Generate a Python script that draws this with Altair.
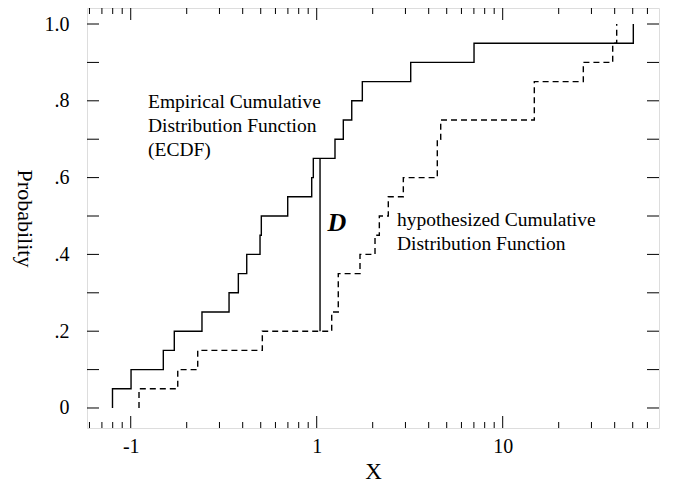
import altair as alt
import pandas as pd

# ECDF: x where each jump happens and the level reached after it
ecdf_x = [0.0798, 0.1004, 0.1497, 0.1715, 0.2416, 0.3378, 0.3790, 0.4205, 0.4957, 0.5037,
          0.6984, 0.9400, 0.9588, 1.254, 1.390, 1.543, 1.759, 3.202, 7.012, 50.38]
ecdf_p = [0.05, 0.10, 0.15, 0.20, 0.25, 0.30, 0.35, 0.40, 0.45, 0.50,
          0.55, 0.60, 0.65, 0.70, 0.75, 0.80, 0.85, 0.90, 0.95, 1.00]

# hypothesized CDF (dashed)
hyp_x = [0.1108, 0.1790, 0.2292, 0.5100, 1.204, 1.306, 1.709, 2.058, 2.171, 2.426,
         2.922, 4.450, 4.642, 14.79, 27.13, 39.03, 41.01]
hyp_p = [0.05, 0.10, 0.15, 0.20, 0.25, 0.35, 0.40, 0.45, 0.50, 0.55,
         0.60, 0.70, 0.75, 0.85, 0.90, 0.95, 1.00]

# the D statistic
d_x = [1.042]
d_lo = [0.20]
d_hi = [0.65]

# axis ticks
x_major = [0.1, 1, 10]
x_minor = [0.06, 0.07, 0.08, 0.09,
           0.2, 0.3, 0.4, 0.5, 0.6, 0.7, 0.8, 0.9,
           2, 3, 4, 5, 6, 7, 8, 9,
           20, 30, 40, 50, 60]
y_ticks = [0, 0.1, 0.2, 0.3, 0.4, 0.5, 0.6, 0.7, 0.8, 0.9, 1.0]
y_labels = [0, 0.2, 0.4, 0.6, 0.8, 1.0]

FONT = "Liberation Serif"
W, H = 572, 420


def steps(xv, pv):
    # start the step at zero below the first jump
    xs_ = [xv[0]] + list(xv)
    ps_ = [0.0] + list(pv)
    return pd.DataFrame({"i": range(len(xs_)), "x": xs_, "p": ps_})


xs = alt.Scale(type="log", domain=[0.0582, 69.24], nice=False)
ys = alt.Scale(domain=[-0.0521, 1.0417], nice=False, zero=False)

xa = alt.Axis(values=x_major, grid=False, domain=False, ticks=False, tickSize=0, title="X",
              labelExpr="datum.value < 0.5 ? '-1' : (datum.value < 5 ? '1' : '10')",
              labelFont=FONT, labelFontSize=20, labelColor="black", labelPadding=8,
              titleFont=FONT, titleFontSize=23, titleFontWeight="normal",
              titleColor="black", titlePadding=4)
ya = alt.Axis(values=y_labels, grid=False, domain=False, ticks=False, tickSize=0, title="Probability",
              labelExpr="datum.value == 0 ? '0' : (datum.value == 1 ? '1.0' : replace(format(datum.value, '.1f'), '0.', '.'))",
              labelFont=FONT, labelFontSize=20, labelColor="black", labelPadding=18,
              titleFont=FONT, titleFontSize=22, titleFontWeight="normal",
              titleColor="black", titleAngle=90, titlePadding=32)

ecdf = alt.Chart(steps(ecdf_x, ecdf_p)).mark_line(
    interpolate="step-after", color="black", strokeWidth=1.4
).encode(
    x=alt.X("x:Q", scale=xs, axis=xa),
    y=alt.Y("p:Q", scale=ys, axis=ya),
    order="i:Q",
)

hyp = alt.Chart(steps(hyp_x, hyp_p)).mark_line(
    interpolate="step-after", color="black", strokeWidth=1.4, strokeDash=[6, 4]
).encode(
    x=alt.X("x:Q", scale=xs, axis=xa),
    y=alt.Y("p:Q", scale=ys, axis=ya),
    order="i:Q",
)

dline = alt.Chart(pd.DataFrame({"x": d_x, "lo": d_lo, "hi": d_hi})).mark_rule(
    color="black", strokeWidth=1.4
).encode(
    x=alt.X("x:Q", scale=xs, axis=xa),
    y=alt.Y("lo:Q", scale=ys, axis=ya),
    y2="hi:Q",
)


def xticks(vals, y0, y1):
    return alt.Chart(pd.DataFrame({"v": vals})).mark_rule(color="black", strokeWidth=1).encode(
        x=alt.X("v:Q", scale=xs, axis=xa), y=alt.value(y0), y2=alt.value(y1))


def yticks(vals, x0, x1):
    return alt.Chart(pd.DataFrame({"v": vals})).mark_rule(color="black", strokeWidth=1).encode(
        y=alt.Y("v:Q", scale=ys, axis=ya), x=alt.value(x0), x2=alt.value(x1))


tick_layers = [
    xticks(x_major, H, H - 12), xticks(x_minor, H, H - 6),
    xticks(x_major, 0, 12), xticks(x_minor, 0, 6),
    yticks(y_ticks, 0, 12), yticks(y_ticks, W, W - 12),
]

# multi-line text: y is the centre of the first line
txt_ecdf = alt.Chart().mark_text(
    align="left", baseline="middle", font=FONT, fontSize=19.5, lineHeight=24, color="black"
).encode(x=alt.X(datum=0.1239, scale=xs, axis=xa), y=alt.Y(datum=0.798, scale=ys, axis=ya),
         text=alt.value(["Empirical Cumulative", "Distribution Function", "(ECDF)"]))

txt_hyp = alt.Chart().mark_text(
    align="left", baseline="middle", font=FONT, fontSize=19.5, lineHeight=24, color="black"
).encode(x=alt.X(datum=2.70, scale=xs, axis=xa), y=alt.Y(datum=0.490, scale=ys, axis=ya),
         text=alt.value(["hypothesized Cumulative", "Distribution Function"]))

txt_d = alt.Chart().mark_text(
    align="center", baseline="middle", font=FONT, fontSize=26, fontWeight="bold",
    fontStyle="italic", color="black"
).encode(x=alt.X(datum=1.285, scale=xs, axis=xa), y=alt.Y(datum=0.482, scale=ys, axis=ya),
         text=alt.value("D"))

chart = alt.layer(
    ecdf, hyp, dline, *tick_layers, txt_ecdf, txt_hyp, txt_d
).properties(
    width=W, height=H,
    autosize=alt.AutoSizeParams(type="none"),
    padding={"left": 79, "top": 0, "right": 8, "bottom": 55},
).configure_view(stroke="black", strokeWidth=1.2).configure(background="white")

chart.save("out.html", embed_options={"renderer": "svg", "actions": False})
